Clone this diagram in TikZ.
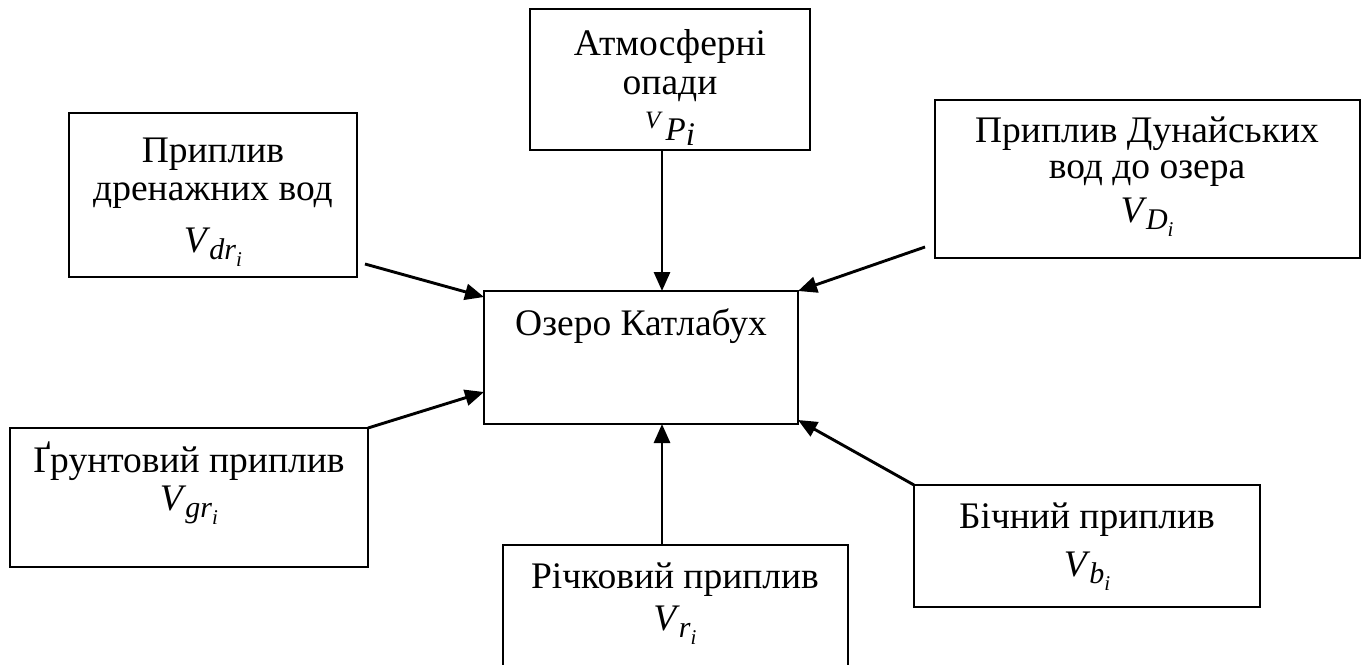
\documentclass[tikz,border=0pt]{standalone}
\usepackage{fontspec}
\setmainfont{Liberation Serif}
\usetikzlibrary{arrows.meta,calc}
\newcommand{\Vs}[1]{\textit{V}\kern-1pt\raisebox{-7pt}{\fontsize{30}{30}\selectfont\textit{#1}\raisebox{-7pt}{\fontsize{21}{21}\selectfont\textit{i}}}}
\begin{document}
\begin{tikzpicture}[x=1pt,y=-1pt,
  box/.style={draw, line width=1.3pt, inner sep=0pt, outer sep=0pt},
  txt/.style={anchor=base, inner sep=0pt, font=\fontsize{37.5}{39}\selectfont},
  flow/.style={line width=2.9pt, -{Triangle[length=19pt,width=16pt]}}]
\useasboundingbox (0,0) rectangle (1364,664);
% boxes
\node[box, minimum width=280pt, minimum height=141pt] (atm) at (670,79.5) {};
\node[box, minimum width=288pt, minimum height=164pt] (drn) at (213,195) {};
\node[box, minimum width=425pt, minimum height=158pt] (dan) at (1147.5,179) {};
\node[box, minimum width=358pt, minimum height=139pt] (grd) at (189,497.5) {};
\node[box, minimum width=314pt, minimum height=133pt] (lake) at (641,357.5) {};
\node[box, minimum width=345pt, minimum height=140pt] (riv) at (675.5,615) {};
\node[box, minimum width=346pt, minimum height=122pt] (side) at (1087,546) {};
% texts
\node[txt] (atm1) at (670,55) {Атмосферні};
\node[txt] (atm2) at (670,94) {опади};
\node[txt] (atm3) at (670,140) {\raisebox{12pt}{\fontsize{25}{25}\selectfont\textit{V}}\kern3pt{\fontsize{33}{33}\selectfont\textit{P}\raisebox{-5pt}{\textit{i}}}};
\node[txt] (drn1) at (213,162) {Приплив};
\node[txt] (drn2) at (213,200) {дренажних вод};
\node[txt] (drn3) at (213,252) {\Vs{dr}};
\node[txt] (dan1) at (1147,142) {Приплив Дунайських};
\node[txt] (dan2) at (1147,178) {вод до озера};
\node[txt] (dan3) at (1147,222) {\Vs{D}};
\node[txt] (grd1) at (189,472) {Ґрунтовий приплив};
\node[txt] (grd2) at (189,510) {\Vs{gr}};
\node[txt] (lake1) at (641,335) {Озеро Катлабух};
\node[txt] (riv1) at (675,588) {Річковий приплив};
\node[txt] (riv2) at (675,630) {\Vs{r}};
\node[txt] (side1) at (1087,528) {Бічний приплив};
\node[txt] (side2) at (1087,576) {\Vs{b}};
% connectors
\draw[flow] ($(atm.south)+(-8,0)$) -- ($(lake.north)+(21,0)$);
\draw[flow] ($(drn.south east)+(8,-13)$) -- ($(lake.north west)+(0,6)$);
\draw[flow] ($(dan.south west)+(-10,-11)$) -- (lake.north east);
\draw[flow] (grd.north east) -- ($(lake.south west)+(0,-32)$);
\draw[flow] ($(riv.north)+(-13.5,0)$) -- ($(lake.south)+(21,0)$);
\draw[flow] (side.north west) -- ($(lake.south east)+(0,-4)$);
\end{tikzpicture}
\end{document}
